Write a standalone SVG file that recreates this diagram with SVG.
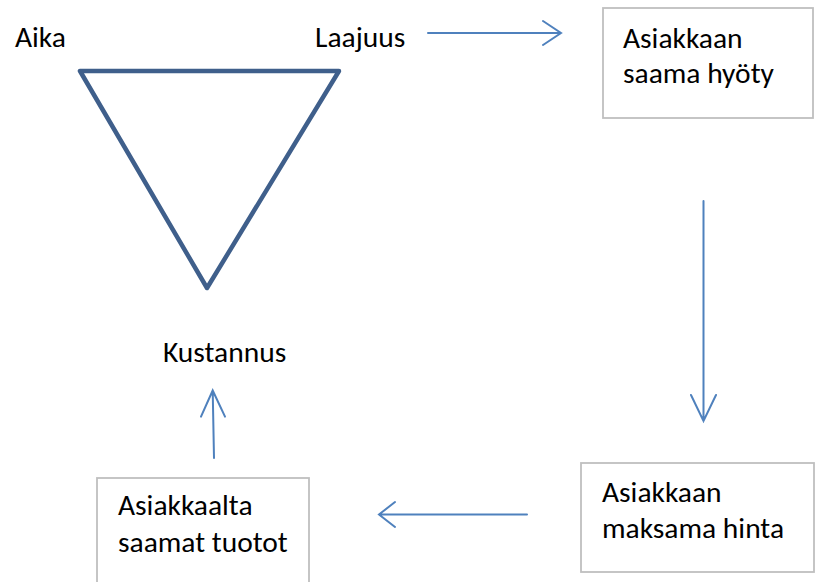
<svg xmlns="http://www.w3.org/2000/svg" width="817" height="582" viewBox="0 0 817 582">
<style>
text{font-family:Carlito,Lato,"Liberation Sans",sans-serif;font-size:29.5px;fill:#000}
.box{fill:#fff;stroke:#bfbfbf;stroke-width:1.8}
.c{fill:none;stroke:#4f81bd;stroke-width:2;stroke-linecap:round;stroke-linejoin:miter}
.tri{fill:none;stroke:#3f5f8b;stroke-width:4.5;stroke-linejoin:round}
</style>
<rect width="817" height="582" fill="#fff"/>
<g id="triangle">
<polygon class="tri" points="80,71 339,71 207,288"/>
</g>
<g id="aika"><text x="15" y="47">Aika</text></g>
<g id="laajuus"><text x="315" y="47">Laajuus</text></g>
<g id="kustannus"><text x="163" y="362">Kustannus</text></g>
<g id="hyoty">
<rect class="box" x="603" y="8" width="210" height="110"/>
<text x="623" y="48">Asiakkaan</text>
<text x="623" y="83">saama hyöty</text>
</g>
<g id="hinta">
<rect class="box" x="581" y="463" width="233" height="109"/>
<text x="602" y="502">Asiakkaan</text>
<text x="602" y="538">maksama hinta</text>
</g>
<g id="tuotot">
<rect class="box" x="97" y="478" width="212" height="110"/>
<text x="118" y="515">Asiakkaalta</text>
<text x="118" y="552">saamat tuotot</text>
</g>
<g id="connectors">
<path class="c" d="M428,33 H561 M543,21 L561,33 L543,45"/>
<path class="c" d="M703.5,201 V421 M691,395 L703.5,421 L716,395"/>
<path class="c" d="M527,514.5 H379 M395,502 L379,514.5 L395,527"/>
<path class="c" d="M214,458 L212.7,390.5 M201,416.7 L212.7,390.5 L225,416.7"/>
</g>
</svg>
